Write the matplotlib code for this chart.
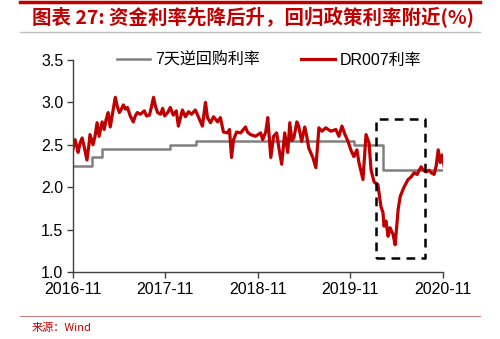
import pandas as pd
import numpy as np
import matplotlib
import matplotlib.pyplot as plt
import matplotlib.dates as mdates
from matplotlib.lines import Line2D

matplotlib.use('agg')
plt.rcParams['font.family'] = ['Liberation Sans', 'Noto Sans CJK SC', 'DejaVu Sans']

# Colours / fonts
RED = '#C00000'
GRAY = '#808080'
TICKFONT = 11.5
LEGFONT = 11.5

# DR007 (%)
dr_dates = [
    '2016-11-01', '2016-11-09', '2016-11-17', '2016-11-21', '2016-11-29', '2016-12-07',
    '2016-12-15', '2016-12-26', '2017-01-03', '2017-01-07', '2017-01-19', '2017-01-27',
    '2017-02-04', '2017-02-12', '2017-02-24', '2017-03-04', '2017-03-12', '2017-03-20',
    '2017-03-28', '2017-04-05', '2017-04-17', '2017-04-25', '2017-05-03', '2017-05-11',
    '2017-05-19', '2017-05-27', '2017-06-04', '2017-06-15', '2017-06-27', '2017-07-05',
    '2017-07-13', '2017-07-25', '2017-08-02', '2017-08-10', '2017-08-18', '2017-08-30',
    '2017-09-07', '2017-09-15', '2017-09-23', '2017-10-01', '2017-10-13', '2017-10-21',
    '2017-10-29', '2017-11-10', '2017-11-20', '2017-12-02', '2017-12-14', '2017-12-22',
    '2018-01-07', '2018-01-19', '2018-01-31', '2018-02-12', '2018-02-27', '2018-03-11',
    '2018-03-27', '2018-04-08', '2018-04-16', '2018-04-28', '2018-05-10', '2018-05-26',
    '2018-06-06', '2018-06-18', '2018-07-04', '2018-07-12', '2018-07-20', '2018-07-28',
    '2018-08-09', '2018-08-25', '2018-09-13', '2018-09-21', '2018-10-03', '2018-10-23',
    '2018-11-12', '2018-11-20', '2018-12-02', '2018-12-10', '2018-12-22', '2019-01-02',
    '2019-01-14', '2019-01-22', '2019-02-03', '2019-02-15', '2019-02-27', '2019-03-07',
    '2019-03-15', '2019-03-23', '2019-04-04', '2019-04-11', '2019-04-23', '2019-05-05',
    '2019-05-13', '2019-05-21', '2019-06-06', '2019-06-18', '2019-06-30', '2019-07-12',
    '2019-07-27', '2019-08-16', '2019-09-05', '2019-09-17', '2019-09-29', '2019-10-11',
    '2019-10-23', '2019-11-03', '2019-11-15', '2019-11-27', '2019-12-05', '2019-12-21',
    '2020-01-02', '2020-01-14', '2020-01-22', '2020-02-03', '2020-02-18', '2020-03-01',
    '2020-03-09', '2020-03-13', '2020-03-21', '2020-03-29', '2020-04-06', '2020-04-18',
    '2020-04-26', '2020-05-08', '2020-05-16', '2020-05-31', '2020-06-16', '2020-06-28',
    '2020-07-10', '2020-07-22', '2020-07-30', '2020-08-07', '2020-08-15', '2020-08-27',
    '2020-09-07', '2020-09-15', '2020-09-27', '2020-10-05', '2020-10-13', '2020-10-21',
    '2020-10-29', '2020-11-06',
]
dr_values = [
    2.45, 2.56, 2.47, 2.41, 2.52, 2.58,
    2.48, 2.32, 2.50, 2.62, 2.50, 2.60,
    2.76, 2.60, 2.77, 2.68, 2.80, 2.88,
    2.71, 2.85, 3.06, 2.95, 2.88, 2.92,
    2.97, 2.92, 2.94, 2.84, 2.77, 2.84,
    2.88, 2.86, 2.88, 2.90, 2.84, 2.85,
    2.95, 3.06, 2.95, 2.88, 2.86, 2.93,
    2.84, 2.88, 2.94, 2.85, 2.90, 2.72,
    2.91, 2.83, 2.89, 2.86, 2.91, 2.83,
    2.72, 3.00, 2.82, 2.76, 2.83, 2.77,
    2.82, 2.65, 2.64, 2.68, 2.35, 2.56,
    2.65, 2.64, 2.71, 2.65, 2.62, 2.60,
    2.64, 2.56, 2.65, 2.82, 2.35, 2.60,
    2.64, 2.48, 2.27, 2.64, 2.41, 2.76,
    2.55, 2.58, 2.77, 2.72, 2.54, 2.71,
    2.60, 2.46, 2.35, 2.23, 2.70, 2.66,
    2.70, 2.66, 2.68, 2.60, 2.72, 2.62,
    2.54, 2.44, 2.36, 2.44, 2.29, 2.09,
    2.62, 2.52, 2.20, 2.06, 2.03, 1.77,
    1.70, 1.54, 1.60, 1.42, 1.52, 1.44,
    1.32, 1.74, 1.89, 2.00, 2.09, 2.12,
    2.17, 2.15, 2.20, 2.24, 2.20, 2.18,
    2.20, 2.17, 2.15, 2.25, 2.44, 2.29,
    2.38, 2.24,
]

# 7-day reverse repo rate (%), step changes
rr_dates = ['2016-11-01', '2017-01-15', '2017-02-24', '2017-11-20', '2018-03-03',
            '2019-11-15', '2020-03-09', '2020-11-06']
rr_values = [2.25, 2.35, 2.45, 2.50, 2.55, 2.50, 2.20, 2.20]

# highlighted window
box_dates = ['2020-02-10', '2020-08-23']
box_values = [1.16, 2.80]

xtick_dates = ['2016-11-01', '2017-11-01', '2018-11-01', '2019-11-01', '2020-11-01']
xtick_labels = ['2016-11', '2017-11', '2018-11', '2019-11', '2020-11']

dr = pd.Series(dr_values, index=pd.to_datetime(dr_dates))
rr = pd.Series(rr_values, index=pd.to_datetime(rr_dates))

fig = plt.figure(figsize=(5.0, 3.39), dpi=100)
ax = fig.add_axes([0.146, 0.198, 0.74, 0.625])

ax.step(rr.index, rr.values, where='post', color=GRAY, linewidth=1.8, label='7天逆回购利率')
ax.plot(dr.index, dr.values, color=RED, linewidth=2.3, label='DR007利率',
        solid_joinstyle='round')

# dashed box around the 2020 dip
bx = pd.to_datetime(box_dates)
ax.plot([bx[0], bx[1], bx[1], bx[0], bx[0]],
        [box_values[0], box_values[0], box_values[1], box_values[1], box_values[0]],
        color='black', linestyle=(0, (3.5, 2.5)), linewidth=1.8)

ax.set_xlim(pd.Timestamp(xtick_dates[0]), pd.Timestamp(xtick_dates[-1]))
ax.set_ylim(1.0, 3.5)
ax.set_yticks([1.0, 1.5, 2.0, 2.5, 3.0, 3.5])
ax.set_yticklabels(['1.0', '1.5', '2.0', '2.5', '3.0', '3.5'])
ax.set_xticks(pd.to_datetime(xtick_dates))
ax.set_xticklabels(xtick_labels)
ax.tick_params(axis='both', labelsize=TICKFONT, length=4, width=1, color='#404040',
               direction='out', pad=3)
ax.spines['top'].set_visible(False)
ax.spines['right'].set_visible(False)
for s in ['left', 'bottom']:
    ax.spines[s].set_color('#404040')
    ax.spines[s].set_linewidth(1.0)

leg = ax.legend(loc='center', bbox_to_anchor=(0.53, 1.0), ncol=2, frameon=False,
                fontsize=LEGFONT, handlelength=2.1, columnspacing=2.6, handletextpad=0.3)

# header / footer decoration
fig.add_artist(Line2D([0.04, 0.96], [0.994, 0.994], color=RED, linewidth=2.5))
fig.text(0.064, 0.948, '图表 27: 资金利率先降后升，回归政策利率附近(%)', color=RED,
         fontsize=14, fontweight='bold', va='center', ha='left', style='italic',
         family=['Noto Sans CJK SC', 'DejaVu Sans'])
fig.add_artist(Line2D([0.04, 0.96], [0.905, 0.905], color='#bfbfbf', linewidth=1.0))
fig.add_artist(Line2D([0.04, 0.96], [0.068, 0.068], color='#c98080', linewidth=0.8))
fig.text(0.064, 0.032, '来源：Wind', color=RED, fontsize=8, va='center', ha='left',
         family=['Noto Sans CJK SC', 'DejaVu Sans'])

plt.savefig('out.png', dpi=100)
